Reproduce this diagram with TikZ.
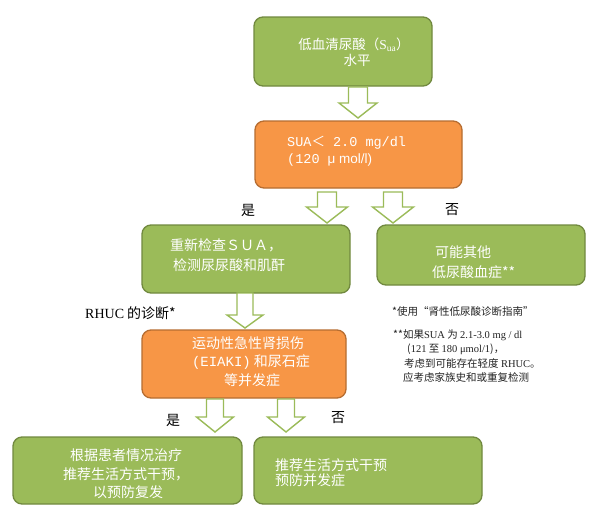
\documentclass[tikz,border=0pt]{standalone}
\usepackage{fontspec}
\setmainfont{Noto Sans CJK SC}
\newfontfamily\cjk{Noto Sans CJK SC}
\newfontfamily\lser{Liberation Serif}
\newfontfamily\lmono{Liberation Mono}
\newfontfamily\lsans{Liberation Sans}
\definecolor{gfill}{HTML}{9BBB59}
\definecolor{gborder}{HTML}{71893F}
\definecolor{ofill}{HTML}{F79646}
\definecolor{oborder}{HTML}{B66D31}
\definecolor{notec}{HTML}{222222}
\tikzset{
  gbox/.style={draw=gborder, fill=gfill, rounded corners=9pt, line width=1.3pt, inner sep=0pt},
  obox/.style={draw=oborder, fill=ofill, rounded corners=9pt, line width=1.3pt, inner sep=0pt},
  btxt/.style={text=white, font=\fontsize{14}{15}\selectfont, inner sep=0pt},
  stxt/.style={text=white, font=\fontsize{13.5}{15}\selectfont, inner sep=0pt},
  ltxt/.style={text=black, font=\fontsize{14}{15}\selectfont, inner sep=0pt},
  ntxt/.style={text=notec, font=\fontsize{10.5}{12}\selectfont, inner sep=0pt, anchor=west},
  blockarrow/.style={draw=gfill, fill=white, line width=1.4pt, line join=miter},
}
\newcommand\blockarr[6]{%
  \draw[blockarrow] (#1-#5,#2) -- (#1+#5,#2) -- (#1+#5,#3) -- (#1+#6,#3) -- (#1,#4)
    -- (#1-#6,#3) -- (#1-#5,#3) -- cycle;}
\begin{document}
\begin{tikzpicture}[x=1pt,y=-1pt]
\useasboundingbox[fill=white] (0,0) rectangle (596,514);

% boxes
\node[gbox, minimum width=178pt, minimum height=69pt] (b1) at (343,51.5) {};
\node[obox, minimum width=207pt, minimum height=67pt] (b2) at (358.5,154.5) {};
\node[gbox, minimum width=208pt, minimum height=68pt] (b3) at (246,259) {};
\node[gbox, minimum width=208pt, minimum height=60pt] (b4) at (481,255) {};
\node[obox, minimum width=204pt, minimum height=68pt] (b5) at (244,364) {};
\node[gbox, minimum width=229pt, minimum height=67pt] (b6) at (127.5,470.5) {};
\node[gbox, minimum width=228pt, minimum height=67pt] (b7) at (368,470.5) {};

% block arrows
\blockarr{358}{87}{103}{118}{9.5}{19}
\blockarr{327}{192}{207}{223}{9.5}{20.5}
\blockarr{393}{192}{207}{223}{9.5}{20.5}
\blockarr{245}{293}{315}{328}{8}{18}
\blockarr{215}{399}{417}{432}{8.5}{18.5}
\blockarr{286}{399}{417}{432}{8.5}{18.5}

% box 1 text
\node[stxt] (t1a) at (354,45) {低血清尿酸（{\lser S\textsubscript{ua}}）};
\node[stxt] (t1b) at (357,60) {水平};

% box 2 text
\node[stxt, anchor=west] (t2a) at (287,143) {{\lmono SUA}＜{\lmono\ 2.0 mg/dl}};
\node[stxt, anchor=west] (t2b) at (287,160) {{\lmono (120 }{\lsans μ mol/l)}};

% labels
\node[ltxt] (yes1) at (248,210) {是};
\node[ltxt] (no1) at (452,210) {否};

% box 3 text
\node[btxt, anchor=west] (t3a) at (170,245) {重新检查ＳＵＡ，};
\node[btxt, anchor=west] (t3b) at (173,265) {检测尿尿酸和肌酐};

% box 4 text
\node[btxt, anchor=west] (t4a) at (435,252) {可能其他};
\node[btxt, anchor=west] (t4b) at (432,272) {低尿酸血症**};

% RHUC label
\node[ltxt, anchor=west] (rhuc) at (85,313) {{\lser RHUC} 的诊断*};

% box 5 text
\node[btxt] (t5a) at (248,343) {运动性急性肾损伤};
\node[btxt] (t5b) at (251,362) {{\lmono (EIAKI)} 和尿石症};
\node[btxt] (t5c) at (252,380) {等并发症};

% labels
\node[ltxt] (yes2) at (173,420) {是};
\node[ltxt] (no2) at (338,418) {否};

% box 6 text
\node[btxt, anchor=west] (t6a) at (70,455) {根据患者情况治疗};
\node[btxt, anchor=west] (t6b) at (63,474) {推荐生活方式干预，};
\node[btxt, anchor=west] (t6c) at (93,492) {以预防复发};

% box 7 text
\node[btxt, anchor=west] (t7a) at (275,465) {推荐生活方式干预};
\node[btxt, anchor=west] (t7b) at (275,480) {预防并发症};

% notes
\node[ntxt] (n1) at (392,311) {*使用“肾性低尿酸诊断指南”};
\node[ntxt] (n2) at (393,335) {**如果{\lser SUA} 为 {\lser 2.1-3.0 mg / dl}};
\node[ntxt] (n3) at (407,349) {({\lser 121} 至 {\lser 180 μmol/1})，};
\node[ntxt] (n4) at (404,363) {考虑到可能存在轻度 {\lser RHUC}。};
\node[ntxt] (n5) at (403,377) {应考虑家族史和或重复检测};
\end{tikzpicture}
\end{document}
